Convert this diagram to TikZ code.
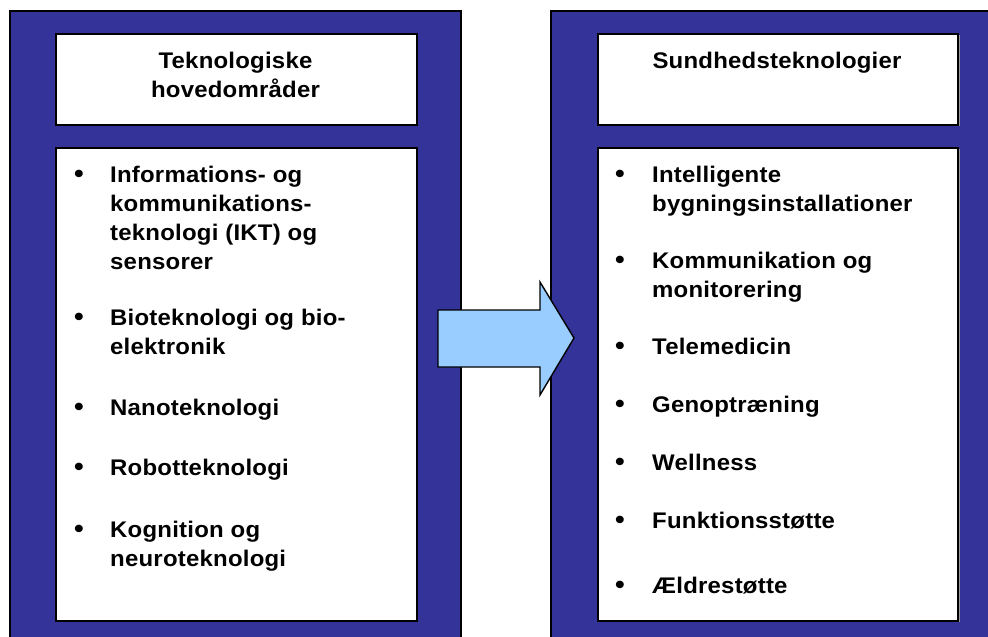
\documentclass[tikz,border=0pt]{standalone}
\usepackage{fontspec}
\setmainfont{Liberation Sans}[FakeStretch=1.06,LetterSpace=1]
\definecolor{panelblue}{HTML}{333399}
\definecolor{arrowblue}{HTML}{99CCFF}
\definecolor{shadowgray}{HTML}{9A9A9A}
\begin{document}
\begin{tikzpicture}[x=1pt,y=-1pt,
  panel/.style={draw=black,line width=1.4pt,fill=panelblue},
  whitebox/.style={draw=black,line width=1.6pt,fill=white,anchor=north west,inner sep=0pt},
  txt/.style={inner sep=0pt,font=\fontsize{22.6}{29}\selectfont\bfseries},
  item/.style={txt,anchor=base west,align=left},
  head/.style={txt,anchor=base,align=center},
  bul/.style={inner sep=0pt,anchor=base,font=\fontsize{26}{29}\selectfont\bfseries}
]
\useasboundingbox (0,0) rectangle (988,637);
\clip (0,0) rectangle (988,637);
% panels
\draw[panel] (10,11) rectangle (461,650);
\draw[panel] (551,11) rectangle (1000,650);
% white boxes with faint shadow
\foreach \x in {55,597}{
  \fill[shadowgray] (\x+2,35) rectangle (\x+363,126);
  \fill[shadowgray] (\x+2,149) rectangle (\x+363,622);
}
\node[whitebox,minimum width=361pt,minimum height=91pt] (lhead) at (55,33) {};
\node[whitebox,minimum width=361pt,minimum height=473pt] (lbody) at (55,147) {};
\node[whitebox,minimum width=360pt,minimum height=91pt] (rhead) at (597,33) {};
\node[whitebox,minimum width=360pt,minimum height=473pt] (rbody) at (597,147) {};
% headings (base anchor = last line's baseline)
\node[head] (lt) at (235.5,97) {Teknologiske\\hovedområder};
\node[head] (rt) at (777,68) {Sundhedsteknologier};
% left items: bullet at first baseline, text anchored at last baseline
\foreach \y/\yl/\t [count=\i] in {182/269/{Informations- og\\kommunikations-\\teknologi (IKT) og\\sensorer},
  325/354/{Bioteknologi og bio-\\elektronik},
  415/415/{Nanoteknologi},
  475/475/{Robotteknologi},
  537/566/{Kognition og\\neuroteknologi}}{
  \node[bul] (lb\i) at (79,\y) {•};
  \node[item] (li\i) at (110,\yl) {\t};
}
% right items
\foreach \y/\yl/\t [count=\i] in {182/211/{Intelligente\\bygningsinstallationer},
  268/297/{Kommunikation og\\monitorering},
  354/354/{Telemedicin},
  412/412/{Genoptræning},
  470/470/{Wellness},
  528/528/{Funktionsstøtte},
  593/593/{Ældrestøtte}}{
  \node[bul] (rb\i) at (620,\y) {•};
  \node[item] (ri\i) at (652,\yl) {\t};
}
% arrow
\draw[fill=arrowblue,draw=black,line width=1.4pt,line join=miter]
  (438,310) -- (540,310) -- (540,282) -- (574,338) -- (540,395) -- (540,367) -- (438,367) -- cycle;
\end{tikzpicture}
\end{document}
